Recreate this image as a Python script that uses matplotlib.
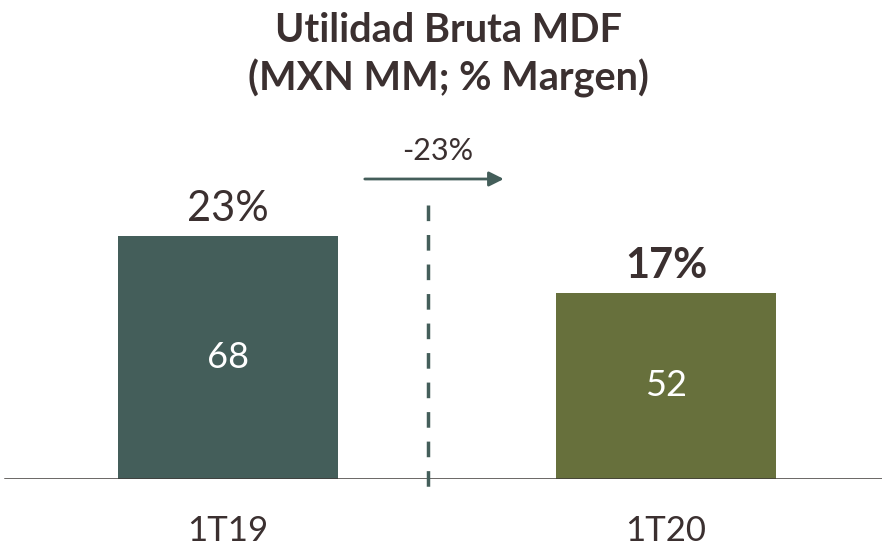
import matplotlib.pyplot as plt

# data
categories = ['1T19', '1T20']
values = [68, 52]
margins = ['23%', '17%']
change_label = '-23%'
bar_colors = ['#445e5a', '#67703c']
text_color = '#3b3030'

plt.rcParams['font.family'] = ['Lato', 'DejaVu Sans']

fig = plt.figure(figsize=(8.82, 5.52), dpi=100)
# axes: baseline sits ~479 px from top
ax = fig.add_axes([0, 73 / 552, 1, 479 / 552])
px_per_unit = 3.58
ax.set_ylim(0, 479 / px_per_unit)
ax.set_xlim(-228 / 438, (882 - 228) / 438)
ax.axis('off')

x = list(range(len(categories)))
ax.bar(x, values, width=220 / 438, color=bar_colors)

# baseline
ax.axhline(0, xmin=5 / 882, xmax=1, color='#3f3a38', lw=1.8)

# values inside bars, margins above
for i, v in enumerate(values):
    ax.text(x[i], v * 0.5, str(v), ha='center', va='center',
            fontsize=26, color='white')
    ax.text(x[i], v + 7.5, margins[i], ha='center', va='center',
            fontsize=30, color=text_color,
            fontweight='bold' if i == 1 else 'normal')
    ax.text(x[i], -14.5, categories[i], ha='center', va='center',
            fontsize=25, color=text_color, clip_on=False)

# dashed divider
mid = 0.4566
ax.plot([mid, mid], [76.5, -2.3], color='#445e5a', lw=2.5,
        linestyle=(0, (4.5, 4)), clip_on=False)

# change arrow
ax.annotate('', xy=(0.636, 83.8), xytext=(0.306, 83.8),
            arrowprops=dict(arrowstyle='-|>', color='#445e5a', lw=2,
                            mutation_scale=22))
ax.text(0.478, 91.5, change_label, ha='center', va='center',
        fontsize=22, color=text_color)

fig.text(0.508, 1 - 30 / 552, 'Utilidad Bruta MDF', ha='center', va='center',
         fontsize=28.5, fontweight='bold', color=text_color)
fig.text(0.508, 1 - 78 / 552, '(MXN MM; % Margen)', ha='center', va='center',
         fontsize=28.5, fontweight='bold', color=text_color)

fig.savefig('out.png', dpi=100)
